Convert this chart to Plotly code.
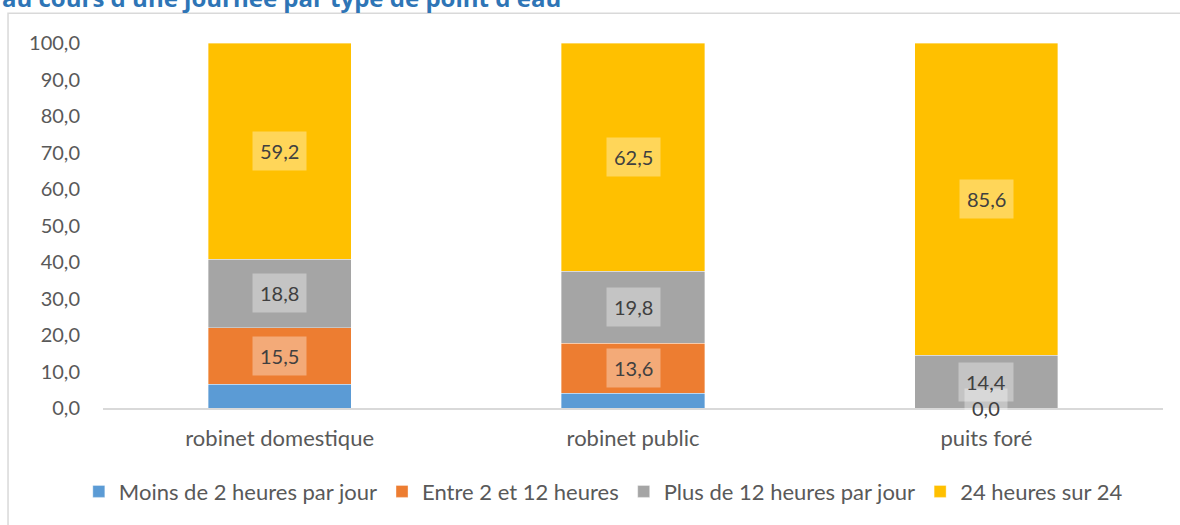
import plotly.graph_objects as go

categories = ["robinet domestique", "robinet public", "puits foré"]
series_names = ["Moins de 2 heures par jour", "Entre 2 et 12 heures",
                "Plus de 12 heures par jour", "24 heures sur 24"]
moins_2h = [6.5, 4.1, 0.0]
entre_2_12 = [15.5, 13.6, 0.0]
plus_12 = [18.8, 19.8, 14.4]
h24 = [59.2, 62.5, 85.6]
series_values = [moins_2h, entre_2_12, plus_12, h24]
show_labels = [False, True, True, True]
colors = ["#5B9BD5", "#ED7D31", "#A5A5A5", "#FFC000"]
title_text = "au cours d'une journée par type de point d'eau"

FONT = "Lato"
fig = go.Figure()
for name, vals, col in zip(series_names, series_values, colors):
    fig.add_trace(go.Bar(
        x=categories, y=vals, name=name,
        marker=dict(color=col, line=dict(color="rgba(255,255,255,0.6)", width=0.6)),
        width=0.405, hoverinfo="skip",
    ))

annotations = []
cum = [0.0] * len(categories)
for vals, show in zip(series_values, show_labels):
    for i, v in enumerate(vals):
        if show:
            annotations.append(dict(
                x=categories[i], y=cum[i] + v / 2, xref="x", yref="y",
                text=f"{v:.1f}".replace(".", ","), showarrow=False,
                font=dict(family=FONT, size=20, color="#404040"),
                bgcolor="rgba(255,255,255,0.35)", borderpad=7,
            ))
        cum[i] += v

annotations.append(dict(
    x=0, xref="paper", xanchor="left", y=1.126, yref="paper", yanchor="middle",
    xshift=-103, text=f"<b>{title_text}</b>", showarrow=False,
    font=dict(family="Open Sans", size=24, color="#2E75B6"),
))

fig.update_layout(
    barmode="stack",
    width=1180, height=525,
    margin=dict(l=103, r=17, t=43, b=115),
    paper_bgcolor="white", plot_bgcolor="white",
    separators=",.",
    font=dict(family=FONT, size=16, color="#595959"),
    xaxis=dict(showgrid=False, showline=True, linecolor="#D9D9D9", linewidth=1.5,
               ticks="", tickfont=dict(size=22, color="#595959"),
               ticklabelstandoff=10),
    yaxis=dict(range=[0, 100], dtick=10, tickformat=".1f", showgrid=False,
               zeroline=False, showline=False, ticks="",
               tickfont=dict(size=20, color="#595959"), ticklabelstandoff=22),
    legend=dict(orientation="h", x=0.472, xanchor="center", y=-0.229, yanchor="middle",
                font=dict(size=22, color="#595959"), traceorder="normal",
                itemwidth=30),
    annotations=annotations,
    shapes=[dict(type="rect", xref="paper", yref="paper",
                 x0=-0.0896, x1=1.06, y0=-0.36, y1=1.0817,
                 line=dict(color="#D9D9D9", width=1.5), layer="below")],
    showlegend=True,
)

fig.write_html("out.html", config={"displayModeBar": False},
               post_script="document.body.style.margin='0';")
